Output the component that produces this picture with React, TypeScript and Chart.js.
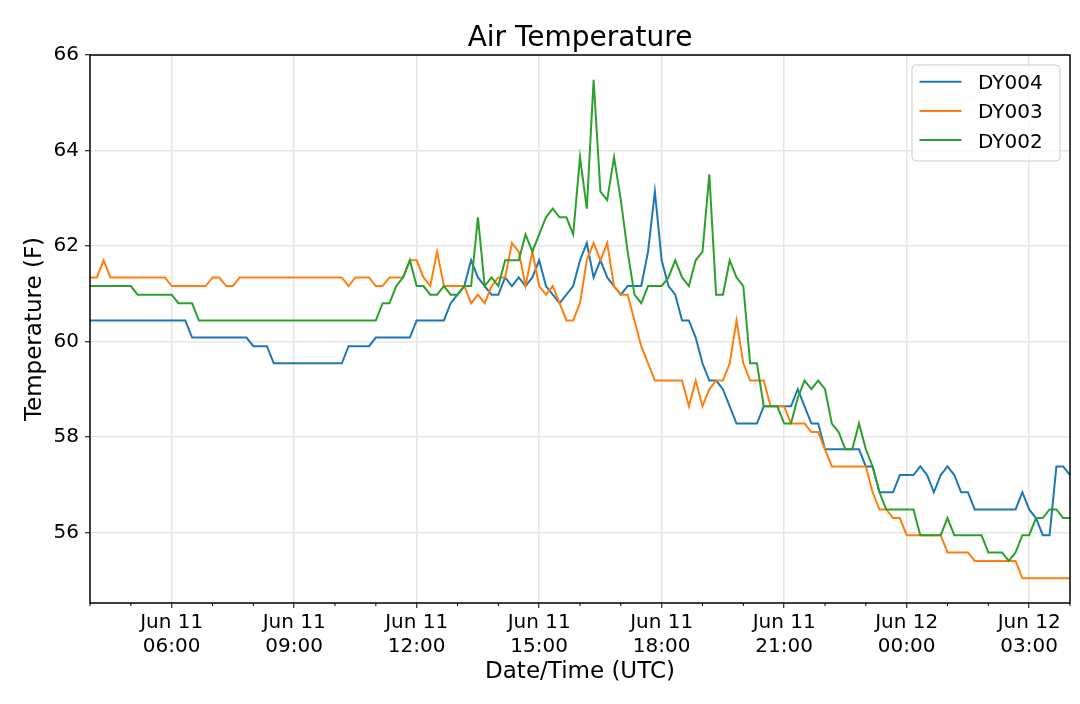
import { useEffect, useRef } from 'react';
import { Chart, registerables } from 'chart.js';

Chart.register(...registerables);

const FONT = '"DejaVu Sans", Verdana, sans-serif';

const seriesNames = ['DY004', 'DY003', 'DY002'];
const seriesColors = ['#1f77b4', '#ff7f0e', '#2ca02c'];

// one reading every 10 minutes, Jun 11 04:00 UTC -> Jun 12 04:00 UTC (12 per row = 2 h)
const stepMinutes = 10;

const dy004 = [
  60.44, 60.44, 60.44, 60.44, 60.44, 60.44, 60.44, 60.44, 60.44, 60.44, 60.44, 60.44,
  60.44, 60.44, 60.44, 60.08, 60.08, 60.08, 60.08, 60.08, 60.08, 60.08, 60.08, 60.08,
  59.9, 59.9, 59.9, 59.54, 59.54, 59.54, 59.54, 59.54, 59.54, 59.54, 59.54, 59.54,
  59.54, 59.54, 59.9, 59.9, 59.9, 59.9, 60.08, 60.08, 60.08, 60.08, 60.08, 60.08,
  60.44, 60.44, 60.44, 60.44, 60.44, 60.8, 60.98, 61.16, 61.7, 61.34, 61.16, 60.98,
  60.98, 61.34, 61.16, 61.34, 61.16, 61.34, 61.7, 61.16, 60.98, 60.8, 60.98, 61.16,
  61.7, 62.06, 61.34, 61.7, 61.34, 61.16, 60.98, 61.16, 61.16, 61.16, 61.88, 63.14,
  61.7, 61.16, 60.98, 60.44, 60.44, 60.08, 59.54, 59.18, 59.18, 59.0, 58.64, 58.28,
  58.28, 58.28, 58.28, 58.64, 58.64, 58.64, 58.64, 58.64, 59.0, 58.64, 58.28, 58.28,
  57.74, 57.74, 57.74, 57.74, 57.74, 57.74, 57.38, 57.38, 56.84, 56.84, 56.84, 57.2,
  57.2, 57.2, 57.38, 57.2, 56.84, 57.2, 57.38, 57.2, 56.84, 56.84, 56.48, 56.48,
  56.48, 56.48, 56.48, 56.48, 56.48, 56.84, 56.48, 56.3, 55.94, 55.94, 57.38, 57.38,
  57.2,
];

const dy003 = [
  61.34, 61.34, 61.7, 61.34, 61.34, 61.34, 61.34, 61.34, 61.34, 61.34, 61.34, 61.34,
  61.16, 61.16, 61.16, 61.16, 61.16, 61.16, 61.34, 61.34, 61.16, 61.16, 61.34, 61.34,
  61.34, 61.34, 61.34, 61.34, 61.34, 61.34, 61.34, 61.34, 61.34, 61.34, 61.34, 61.34,
  61.34, 61.34, 61.16, 61.34, 61.34, 61.34, 61.16, 61.16, 61.34, 61.34, 61.34, 61.7,
  61.7, 61.34, 61.16, 61.88, 61.16, 61.16, 61.16, 61.16, 60.8, 60.98, 60.8, 61.16,
  61.34, 61.34, 62.06, 61.88, 61.16, 61.88, 61.16, 60.98, 61.16, 60.8, 60.44, 60.44,
  60.8, 61.7, 62.06, 61.7, 62.06, 61.16, 60.98, 60.98, 60.44, 59.9, 59.54, 59.18,
  59.18, 59.18, 59.18, 59.18, 58.64, 59.18, 58.64, 59.0, 59.18, 59.18, 59.54, 60.44,
  59.54, 59.18, 59.18, 59.18, 58.64, 58.64, 58.64, 58.28, 58.28, 58.28, 58.1, 58.1,
  57.74, 57.38, 57.38, 57.38, 57.38, 57.38, 57.38, 56.84, 56.48, 56.48, 56.3, 56.3,
  55.94, 55.94, 55.94, 55.94, 55.94, 55.94, 55.58, 55.58, 55.58, 55.58, 55.4, 55.4,
  55.4, 55.4, 55.4, 55.4, 55.4, 55.04, 55.04, 55.04, 55.04, 55.04, 55.04, 55.04,
  55.04,
];

const dy002 = [
  61.16, 61.16, 61.16, 61.16, 61.16, 61.16, 61.16, 60.98, 60.98, 60.98, 60.98, 60.98,
  60.98, 60.8, 60.8, 60.8, 60.44, 60.44, 60.44, 60.44, 60.44, 60.44, 60.44, 60.44,
  60.44, 60.44, 60.44, 60.44, 60.44, 60.44, 60.44, 60.44, 60.44, 60.44, 60.44, 60.44,
  60.44, 60.44, 60.44, 60.44, 60.44, 60.44, 60.44, 60.8, 60.8, 61.16, 61.34, 61.7,
  61.16, 61.16, 60.98, 60.98, 61.16, 60.98, 60.98, 61.16, 61.16, 62.6, 61.16, 61.34,
  61.16, 61.7, 61.7, 61.7, 62.24, 61.88, 62.24, 62.6, 62.78, 62.6, 62.6, 62.24,
  63.86, 62.78, 65.48, 63.14, 62.96, 63.86, 62.96, 61.88, 60.98, 60.8, 61.16, 61.16,
  61.16, 61.34, 61.7, 61.34, 61.16, 61.7, 61.88, 63.5, 60.98, 60.98, 61.7, 61.34,
  61.16, 59.54, 59.54, 58.64, 58.64, 58.64, 58.28, 58.28, 58.82, 59.18, 59.0, 59.18,
  59.0, 58.28, 58.1, 57.74, 57.74, 58.28, 57.74, 57.38, 56.84, 56.48, 56.48, 56.48,
  56.48, 56.48, 55.94, 55.94, 55.94, 55.94, 56.3, 55.94, 55.94, 55.94, 55.94, 55.94,
  55.58, 55.58, 55.58, 55.4, 55.58, 55.94, 55.94, 56.3, 56.3, 56.48, 56.48, 56.3,
  56.3,
];

// x axis is minutes after Jun 11 04:00 UTC
const xMin = 0;
const xMax = 1440;
const xMajorTicks = [120, 300, 480, 660, 840, 1020, 1200, 1380];
const xTickLabels = [
  ['Jun 11', '06:00'],
  ['Jun 11', '09:00'],
  ['Jun 11', '12:00'],
  ['Jun 11', '15:00'],
  ['Jun 11', '18:00'],
  ['Jun 11', '21:00'],
  ['Jun 12', '00:00'],
  ['Jun 12', '03:00'],
];
const xMinorTicks = [0, 60, 180, 240, 360, 420, 540, 600, 720, 780, 900, 960, 1080, 1140, 1260, 1320, 1440];

const yMin = 54.52;
const yMax = 66;
const yTicks = [56, 58, 60, 62, 64, 66];

const toPoints = (values: number[]) => values.map((v, i) => ({ x: i * stepMinutes, y: v }));

// title, frame, minor ticks and the boxed legend, drawn the matplotlib way
const decorPlugin = {
  id: 'decor',
  afterDraw(chart: Chart) {
    const { ctx, chartArea: a, scales } = chart;
    ctx.save();

    ctx.strokeStyle = '#000';
    ctx.lineWidth = 1;
    for (const m of xMinorTicks) {
      const x = scales.x.getPixelForValue(m);
      ctx.beginPath();
      ctx.moveTo(x, a.bottom);
      ctx.lineTo(x, a.bottom + 3);
      ctx.stroke();
    }

    ctx.lineWidth = 1.5;
    ctx.strokeRect(a.left, a.top, a.right - a.left, a.bottom - a.top);

    ctx.fillStyle = '#000';
    ctx.font = `28px ${FONT}`;
    ctx.textAlign = 'center';
    ctx.textBaseline = 'alphabetic';
    ctx.fillText('Air Temperature', (a.left + a.right) / 2, a.top - 9);

    // legend box, upper right
    const bw = 148;
    const bh = 96;
    const bx = a.right - 10 - bw;
    const by = a.top + 10;
    ctx.beginPath();
    ctx.roundRect(bx, by, bw, bh, 4);
    ctx.fillStyle = 'rgba(255,255,255,0.8)';
    ctx.fill();
    ctx.strokeStyle = '#cccccc';
    ctx.lineWidth = 1;
    ctx.stroke();

    ctx.font = `20px ${FONT}`;
    ctx.textAlign = 'left';
    seriesNames.forEach((name, k) => {
      const ly = by + 16.7 + k * 29.2;
      ctx.strokeStyle = seriesColors[k];
      ctx.lineWidth = 2;
      ctx.beginPath();
      ctx.moveTo(bx + 7.5, ly);
      ctx.lineTo(bx + 49.5, ly);
      ctx.stroke();
      ctx.fillStyle = '#000';
      ctx.fillText(name, bx + 66, ly + 7.5);
    });

    ctx.restore();
  },
};

export default function App() {
  const canvasRef = useRef<HTMLCanvasElement>(null);

  useEffect(() => {
    if (!canvasRef.current) return;
    const ctx = canvasRef.current.getContext('2d');
    if (!ctx) return;

    const series = [dy004, dy003, dy002];

    const chart = new Chart(ctx, {
      type: 'line',
      data: {
        datasets: series.map((values, k) => ({
          label: seriesNames[k],
          data: toPoints(values),
          borderColor: seriesColors[k],
          backgroundColor: seriesColors[k],
          borderWidth: 2,
          pointRadius: 0,
          tension: 0,
          fill: false,
          // later series are drawn on top, as in the original
          order: series.length - k,
        })),
      },
      options: {
        responsive: false,
        animation: false,
        layout: { padding: { top: 55, right: 10, bottom: 0, left: 0 } },
        plugins: {
          legend: { display: false },
          title: { display: false },
          tooltip: { enabled: false },
        },
        scales: {
          x: {
            type: 'linear',
            min: xMin,
            max: xMax,
            afterBuildTicks: (scale: any) => {
              scale.ticks = xMajorTicks.map((v) => ({ value: v }));
            },
            afterFit: (scale: any) => {
              scale.height = 101;
            },
            border: { display: false },
            grid: {
              color: '#e6e6e6',
              lineWidth: 1.5,
              drawTicks: true,
              tickLength: 5,
              tickColor: '#000',
              tickWidth: 1,
            },
            ticks: {
              autoSkip: false,
              maxRotation: 0,
              padding: 3,
              color: '#000',
              font: { family: FONT, size: 20, lineHeight: 1.2 },
              callback: (_value: any, index: number) => xTickLabels[index],
            },
            title: {
              display: true,
              text: 'Date/Time (UTC)',
              color: '#000',
              font: { family: FONT, size: 23, lineHeight: 1.2 },
              padding: { top: 0, bottom: 18 },
            },
          },
          y: {
            min: yMin,
            max: yMax,
            afterBuildTicks: (scale: any) => {
              scale.ticks = yTicks.map((v) => ({ value: v }));
            },
            afterFit: (scale: any) => {
              scale.width = 90;
            },
            border: { display: false },
            grid: {
              color: '#e6e6e6',
              lineWidth: 1.5,
              drawTicks: true,
              tickLength: 5,
              tickColor: '#000',
              tickWidth: 1,
            },
            ticks: {
              padding: 6,
              color: '#000',
              font: { family: FONT, size: 20 },
              callback: (value: any) => String(value),
            },
            title: {
              display: true,
              text: 'Temperature (F)',
              color: '#000',
              font: { family: FONT, size: 23, lineHeight: 1.2 },
              padding: { top: 21.5, bottom: 0 },
            },
          },
        },
      },
      plugins: [decorPlugin],
    });

    return () => {
      chart.destroy();
    };
  }, []);

  return (
    <div style={{ position: 'absolute', left: 0, top: 0, width: 1080, height: 704, background: '#ffffff' }}>
      <canvas ref={canvasRef} width={1080} height={704} style={{ width: 1080, height: 704 }}></canvas>
    </div>
  );
}
